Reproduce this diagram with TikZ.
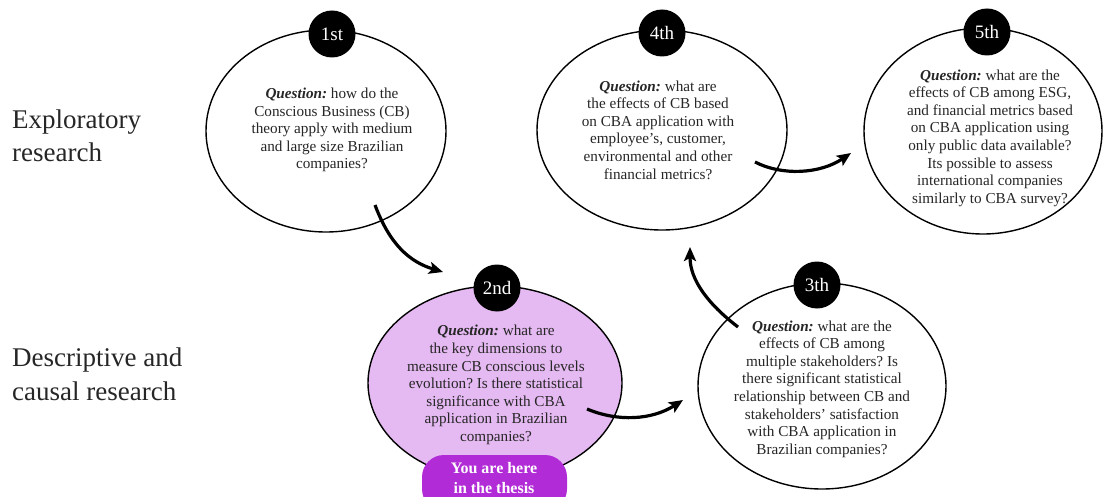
\documentclass[tikz,border=0pt]{standalone}
\usepackage{fontspec}
\setmainfont{Liberation Serif}
\usetikzlibrary{shapes.geometric,arrows.meta}
\definecolor{lav}{HTML}{E5B9F1}
\definecolor{boxpurple}{HTML}{B12CD6}
\definecolor{ink}{HTML}{262626}
\newcommand{\qlead}{{\bfseries\itshape Question:}}
\tikzset{
  qellipse/.style={ellipse, draw=black, line width=1.4pt, fill=white, inner sep=0pt},
  qtext/.style={align=center, text=ink, font=\frenchspacing\fontsize{15.2}{17.6}\selectfont, inner sep=0pt},
  stage/.style={circle, fill=black, minimum size=47pt, inner sep=0pt, text=white,
    font=\fontsize{19}{22}\selectfont},
  flow/.style={line width=3.2pt, -{Stealth[length=14pt,width=12pt,inset=3pt]}},
  side/.style={align=left, text=ink, font=\fontsize{27}{33.5}\selectfont, inner sep=0pt, anchor=base west},
  herebox/.style={rounded corners=22pt, fill=boxpurple, minimum width=145pt, minimum height=56pt, inner sep=0pt},
  heretext/.style={align=center, text=white, font=\bfseries\fontsize{16}{20.5}\selectfont, inner sep=0pt}
}
\begin{document}
\begin{tikzpicture}[x=1pt, y=-1pt]
\useasboundingbox (0,0) rectangle (1105,497);
\begin{scope}
\clip (0,0) rectangle (1105,497);

% row labels (anchored on the baseline of the last line)
\node[side] (lexp) at (12,162) {Exploratory\\research};
\node[side] (ldesc) at (12,400) {Descriptive and\\causal research};

% question ellipses
\node[qellipse, minimum width=240pt, minimum height=202pt] (e1) at (326,131) {};
\node[qellipse, fill=lav, minimum width=254pt, minimum height=194pt] (e2) at (495,383) {};
\node[qellipse, minimum width=248pt, minimum height=206pt] (e3) at (822,386) {};
\node[qellipse, minimum width=250pt, minimum height=200pt] (e4) at (662,130) {};
\node[qellipse, minimum width=238pt, minimum height=206pt] (e5) at (983,131) {};

% question texts
\node[qtext] (t1) at (332,130) {\qlead{} how do the\\Conscious Business (CB)\\theory apply with medium\\and large size Brazilian\\companies?};
\node[qtext] (t2) at (496,385) {\qlead{} what are\\the key dimensions to\\measure CB conscious levels\\evolution? Is there statistical\\significance with CBA\\application in Brazilian\\companies?};
\node[qtext] (t3) at (822,389) {\qlead{} what are the\\effects of CB among\\multiple stakeholders? Is\\there significant statistical\\relationship between CB and\\stakeholders' satisfaction\\with CBA application in\\Brazilian companies?};
\node[qtext] (t4) at (658,130) {\qlead{} what are\\the effects of CB based\\on CBA application with\\employee’s, customer,\\environmental and other\\financial metrics?};
\node[qtext] (t5) at (990,138) {\qlead{} what are the\\effects of CB among ESG,\\and financial metrics based\\on CBA application using\\only public data available?\\Its possible to assess\\international companies\\similarly to CBA survey?};

% stage badges
\node[stage] (n1) at (332,34) {1st};
\node[stage] (n2) at (497,288) {2nd};
\node[stage] (n3) at (817,285) {3th};
\node[stage] (n4) at (662,33) {4th};
\node[stage] (n5) at (987,32) {5th};

% current position marker
\node[herebox] (here) at (494.5,483) {};
\node[heretext] (heretxt) at (494,478) {You are here\\in the thesis};

% arrow end points
\coordinate (a1s) at (375,205);
\coordinate (a1e) at (443,272);
\coordinate (a2s) at (587,409);
\coordinate (a2e) at (683,400);
\coordinate (a3s) at (738,327);
\coordinate (a3e) at (690,247);
\coordinate (a4s) at (755,162);
\coordinate (a4e) at (851,153);

% flow between stages
\draw[flow] (a1s) .. controls (390,245) and (410,262) .. (a1e);
\draw[flow] (a2s) .. controls (618,422) and (652,420) .. (a2e);
\draw[flow] (a3s) .. controls (708,304) and (690,280) .. (a3e);
\draw[flow] (a4s) .. controls (782,176) and (820,174) .. (a4e);
\end{scope}
\end{tikzpicture}
\end{document}
